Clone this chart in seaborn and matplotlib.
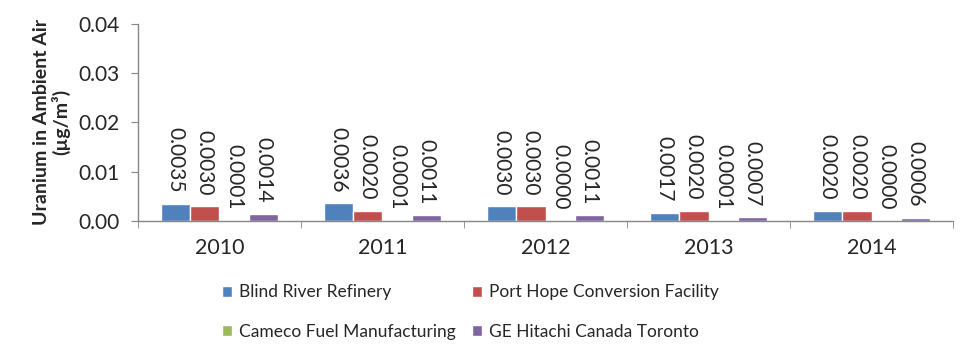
import pandas as pd
import matplotlib.pyplot as plt
import seaborn as sns

# Data
years = ['2010', '2011', '2012', '2013', '2014']
facilities = ['Blind River Refinery', 'Port Hope Conversion Facility',
              'Cameco Fuel Manufacturing', 'GE Hitachi Canada Toronto']
blind_river = [0.0035, 0.0036, 0.0030, 0.0017, 0.0020]
port_hope = [0.0030, 0.0020, 0.0030, 0.0020, 0.0020]
cameco = [0.0001, 0.0001, 0.0000, 0.0001, 0.0000]
ge_hitachi = [0.0014, 0.0011, 0.0011, 0.0007, 0.0006]
colors = ['#4F81BD', '#C0504D', '#9BBB59', '#8064A2']

series = [blind_river, port_hope, cameco, ge_hitachi]
rows = []
for fac, vals in zip(facilities, series):
    for yr, v in zip(years, vals):
        rows.append({'Year': yr, 'Facility': fac, 'Value': v})
df = pd.DataFrame(rows)

sns.set_style('white')
plt.rcParams['font.family'] = ['Lato', 'DejaVu Sans']
axis_grey = '#868686'

fig = plt.figure(figsize=(9.75, 3.58), dpi=100)
ax = fig.add_axes([0.1415, 0.383, 0.836, 0.55])

sns.barplot(data=df, x='Year', y='Value', hue='Facility', order=years,
            hue_order=facilities, palette=colors, width=0.72,
            saturation=1, ax=ax)

for c in ax.containers:
    ax.bar_label(c, fmt='%.4f', rotation=270, padding=8, fontsize=15)

ax.set_ylim(0, 0.04)
ax.set_yticks([0, 0.01, 0.02, 0.03, 0.04])
ax.set_yticklabels(['0.00', '0.01', '0.02', '0.03', '0.04'])
ax.set_xlim(-0.5, len(years) - 0.5)
ax.set_xlabel('')
ax.set_ylabel('Uranium in Ambient Air\n(µg/m³)', fontsize=14,
              fontweight='bold', labelpad=6, linespacing=1.05)

for s in ['top', 'right']:
    ax.spines[s].set_visible(False)
for s in ['left', 'bottom']:
    ax.spines[s].set_color(axis_grey)
    ax.spines[s].set_linewidth(1)

# Excel-style category ticks between groups
ax.set_xticks([i - 0.5 for i in range(len(years) + 1)], minor=True)
ax.tick_params(axis='x', which='major', length=0, labelsize=15.5, pad=12)
ax.tick_params(axis='x', which='minor', length=5, color=axis_grey,
               direction='out', bottom=True)
ax.tick_params(axis='y', length=5, color=axis_grey, direction='out',
               labelsize=15, left=True, pad=8)

handles, labels = ax.get_legend_handles_labels()
order = [0, 2, 1, 3]
ax.legend([handles[i] for i in order], [labels[i] for i in order],
          loc='upper left', bbox_to_anchor=(0.0945, -0.287), ncol=2,
          frameon=False, fontsize=12.5, handlelength=0.6, handleheight=0.6,
          handletextpad=0.4, columnspacing=0.9, labelspacing=1.35,
          borderaxespad=0)

fig.savefig('out.png', dpi=100)
